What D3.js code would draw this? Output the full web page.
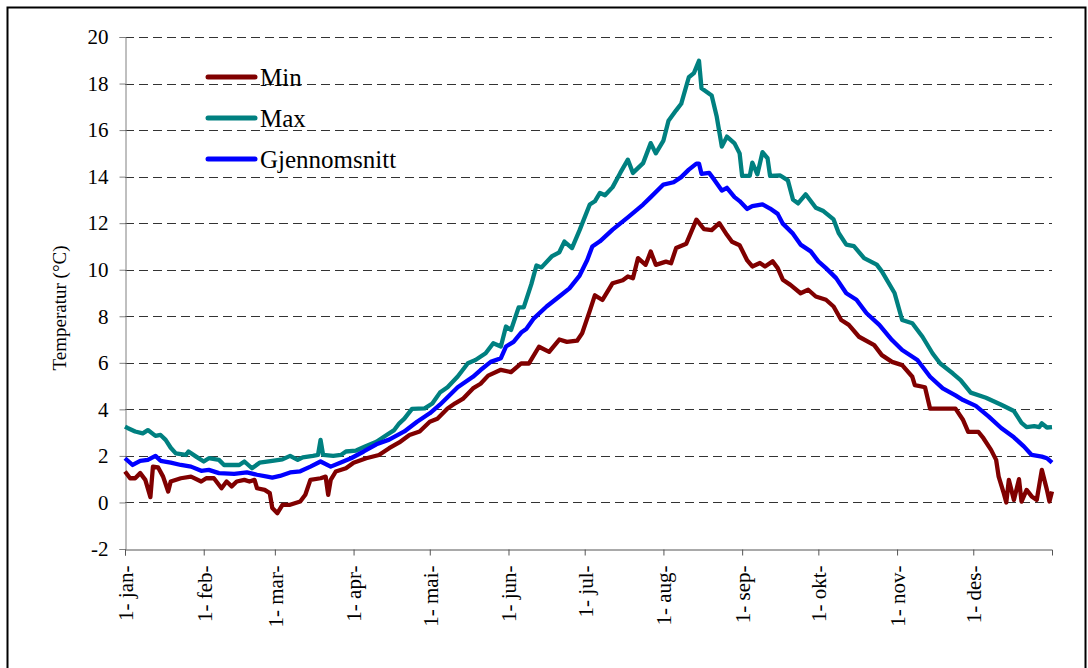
<!DOCTYPE html>
<html>
<head>
<meta charset="utf-8">
<script src="https://d3js.org/d3.v7.min.js"></script>
<style>
  body { margin: 0; background: #fff; }
  svg text { font-family: 'Liberation Serif', 'Times New Roman', serif; fill: #000; }
</style>
</head>
<body>
<div id="chart"></div>
<script>
// day of year (0 = 1 jan) and temperature
var minData = [[0,1.33],[2,1.04],[4,1.04],[6,1.26],[8,0.97],[10,0.23],[11,1.54],[13,1.51],[15,1.11],[17,0.47],[18,0.9],[22,1.04],[26,1.11],[30,0.9],[32,1.04],[35,1.04],[38,0.61],[40,0.9],[42,0.69],[44,0.9],[47,0.97],[49,0.9],[51,0.97],[52,0.61],[55,0.54],[57,0.4],[58,-0.24],[60,-0.46],[62,-0.1],[65,-0.1],[69,0.04],[71,0.33],[73,0.97],[77,1.04],[79,1.11],[80,0.33],[81,0.97],[83,1.33],[87,1.47],[90,1.71],[95,1.9],[100,2.04],[104,2.33],[108,2.58],[112,2.9],[116,3.05],[120,3.47],[123,3.6],[127,4.04],[130,4.26],[133,4.45],[137,4.9],[140,5.1],[143,5.45],[148,5.7],[152,5.6],[156,5.98],[159,5.97],[163,6.69],[167,6.47],[171,7.0],[174,6.9],[178,6.95],[180,7.27],[183,8.23],[185,8.9],[188,8.7],[192,9.42],[196,9.55],[198,9.71],[200,9.63],[202,10.5],[205,10.21],[207,10.78],[209,10.21],[213,10.35],[215,10.28],[217,10.93],[221,11.12],[225,12.15],[228,11.74],[231,11.7],[234,12.0],[237,11.5],[239,11.2],[242,11.05],[245,10.4],[247,10.14],[250,10.29],[252,10.14],[255,10.36],[257,10.07],[259,9.57],[262,9.35],[266,8.99],[269,9.14],[272,8.85],[276,8.71],[279,8.42],[282,7.84],[285,7.63],[289,7.12],[295,6.76],[298,6.33],[302,6.04],[306,5.9],[310,5.4],[311,5.04],[315,4.95],[317,4.03],[327,4.03],[330,3.54],[332,3.03],[336,3.03],[338,2.76],[341,2.26],[343,1.83],[344,1.11],[346,0.4],[347,0.0],[348,0.97],[350,0.11],[352,1.0],[353,0.04],[355,0.54],[357,0.26],[359,0.11],[361,1.4],[363,0.54],[364,0.04],[365,0.47]];

var maxData = [[0,3.26],[1,3.2],[4,3.05],[7,2.97],[9,3.11],[12,2.86],[14,2.9],[16,2.69],[18,2.35],[20,2.11],[24,2.04],[25,2.19],[28,1.97],[31,1.76],[33,1.9],[37,1.83],[39,1.61],[45,1.61],[47,1.76],[50,1.47],[53,1.71],[58,1.79],[62,1.85],[65,2.0],[68,1.83],[70,1.94],[74,2.0],[76,2.04],[77,2.69],[78,2.04],[82,2.0],[85,2.04],[87,2.19],[91,2.23],[95,2.43],[99,2.61],[103,2.9],[106,3.11],[108,3.4],[110,3.6],[113,4.02],[118,4.04],[121,4.25],[124,4.72],[127,4.95],[131,5.41],[135,5.98],[138,6.12],[142,6.41],[145,6.84],[148,6.7],[150,7.56],[152,7.41],[155,8.38],[157,8.38],[160,9.38],[162,10.18],[164,10.1],[168,10.57],[171,10.75],[173,11.21],[176,10.93],[179,11.7],[183,12.8],[185,12.94],[187,13.3],[189,13.2],[192,13.55],[195,14.16],[198,14.73],[200,14.16],[204,14.58],[207,15.44],[209,15.0],[212,15.55],[214,16.4],[217,16.85],[219,17.13],[222,18.27],[224,18.45],[226,18.98],[227,17.8],[231,17.49],[233,16.57],[235,15.29],[237,15.72],[240,15.43],[242,15.0],[243,14.03],[246,14.03],[247,14.6],[249,14.1],[251,15.05],[253,14.79],[254,14.03],[258,14.05],[261,13.84],[263,13.02],[265,12.85],[268,13.24],[272,12.66],[275,12.52],[279,12.16],[281,11.58],[284,11.08],[287,11.01],[291,10.5],[296,10.22],[298,9.93],[303,9.0],[306,7.84],[310,7.7],[314,7.12],[318,6.4],[321,5.97],[326,5.54],[329,5.26],[333,4.72],[339,4.5],[345,4.2],[350,3.93],[353,3.42],[355,3.24],[358,3.28],[360,3.24],[361,3.4],[363,3.22],[365,3.24]];

var avgData = [[0,1.9],[3,1.61],[6,1.79],[9,1.83],[12,2.0],[14,1.79],[18,1.71],[22,1.61],[26,1.54],[30,1.36],[33,1.4],[37,1.26],[43,1.23],[48,1.29],[52,1.19],[56,1.11],[58,1.07],[61,1.14],[65,1.29],[69,1.34],[73,1.54],[77,1.76],[81,1.54],[85,1.72],[89,1.9],[94,2.19],[99,2.5],[104,2.7],[110,3.05],[115,3.47],[120,3.83],[124,4.2],[131,4.95],[137,5.4],[140,5.69],[144,6.04],[148,6.2],[150,6.7],[153,6.9],[156,7.3],[158,7.45],[161,7.91],[166,8.42],[171,8.85],[175,9.2],[179,9.75],[182,10.42],[184,11.0],[187,11.22],[192,11.72],[198,12.25],[204,12.8],[207,13.12],[212,13.66],[216,13.76],[219,13.98],[222,14.3],[225,14.56],[226,14.56],[227,14.12],[230,14.16],[232,13.87],[235,13.4],[237,13.52],[240,13.12],[242,12.95],[245,12.61],[247,12.73],[251,12.81],[254,12.63],[257,12.4],[259,11.98],[263,11.55],[266,11.08],[270,10.79],[273,10.36],[276,10.07],[280,9.64],[284,8.99],[288,8.71],[292,8.13],[297,7.63],[302,6.98],[306,6.55],[312,6.12],[317,5.4],[322,4.9],[327,4.6],[330,4.4],[335,4.15],[340,3.7],[345,3.2],[350,2.8],[354,2.4],[357,2.04],[361,1.97],[363,1.9],[365,1.71]];

var monthDays = [0, 31, 59, 90, 120, 151, 181, 212, 243, 273, 304, 334];
var monthLabels = ['1- jan-', '1- feb-', '1- mar-', '1- apr-', '1- mai-', '1- jun-', '1- jul-', '1- aug-', '1- sep-', '1- okt-', '1- nov-', '1- des-'];
var yTicks = [-2, 0, 2, 4, 6, 8, 10, 12, 14, 16, 18, 20];

var series = [
  {name: 'Min', data: minData, color: '#800000'},
  {name: 'Max', data: maxData, color: '#008080'},
  {name: 'Gjennomsnitt', data: avgData, color: '#0000ff'}
];

var serif = "'Liberation Serif', 'Times New Roman', serif";
var width = 1088, height = 668;
var svg = d3.select('#chart').append('svg')
  .attr('width', width)
  .attr('height', height)
  .attr('font-family', serif);

svg.append('rect')
  .attr('x', 7.5).attr('y', 7.5)
  .attr('width', 1078).attr('height', 700)
  .attr('fill', '#fff')
  .attr('stroke', '#000')
  .attr('stroke-width', 2);

var x = d3.scaleLinear().domain([0, 365]).range([125, 1052]);
var y = d3.scaleLinear().domain([-2, 20]).range([549, 37]);

// dashed grid
svg.append('g')
  .selectAll('line')
  .data(yTicks.filter(function(d){ return d > -2; }))
  .enter().append('line')
    .attr('x1', x(0)).attr('x2', x(365))
    .attr('y1', function(d){ return Math.round(y(d)) + 0.5; })
    .attr('y2', function(d){ return Math.round(y(d)) + 0.5; })
    .attr('stroke', '#333')
    .attr('stroke-dasharray', '9,5');

// y axis
var yAxis = d3.axisLeft(y).tickValues(yTicks).tickSize(6).tickPadding(11)
  .tickFormat(function(d){ return String(d); });
var gy = svg.append('g')
  .attr('transform', 'translate(' + (x(0) + 0.5) + ',0)')
  .call(yAxis)
  .attr('font-family', serif);
gy.selectAll('text').style('font-size', '21px');
gy.select('.domain').attr('stroke', '#808080');
gy.selectAll('.tick line').attr('stroke', '#808080');

// x axis
var xAxis = d3.axisBottom(x).tickValues(monthDays).tickSize(6)
  .tickFormat(function(d, i){ return monthLabels[i]; });
var gx = svg.append('g')
  .attr('transform', 'translate(0,' + (y(-2) + 0.5) + ')')
  .call(xAxis)
  .attr('font-family', serif);
gx.select('.domain').attr('stroke', '#555');
gx.selectAll('.tick line').attr('stroke', '#555');
gx.selectAll('text')
  .style('font-size', '21px')
  .attr('text-anchor', 'end')
  .attr('transform', 'rotate(-90)')
  .attr('x', -16)
  .attr('y', 0)
  .attr('dy', '0.35em');

svg.append('text')
  .attr('transform', 'translate(66,308) rotate(-90)')
  .attr('text-anchor', 'middle')
  .style('font-size', '19px')
  .text('Temperatur (°C)');

// lines
var line = d3.line()
  .x(function(d){ return x(d[0]); })
  .y(function(d){ return y(d[1]); });

svg.append('g')
  .selectAll('path')
  .data(series)
  .enter().append('path')
    .attr('d', function(d){ return line(d.data); })
    .attr('fill', 'none')
    .attr('stroke', function(d){ return d.color; })
    .attr('stroke-width', 4.3)
    .attr('stroke-linejoin', 'round');

// legend
var legend = svg.append('g')
  .selectAll('g')
  .data(series)
  .enter().append('g')
    .attr('transform', function(d, i){ return 'translate(208,' + (77 + i * 41) + ')'; });
legend.append('line')
  .attr('x1', 0).attr('x2', 47)
  .attr('stroke', function(d){ return d.color; })
  .attr('stroke-width', 5)
  .attr('stroke-linecap', 'round');
legend.append('text')
  .attr('x', 52)
  .attr('y', 9)
  .style('font-size', '25px')
  .text(function(d){ return d.name; });
</script>
</body>
</html>
